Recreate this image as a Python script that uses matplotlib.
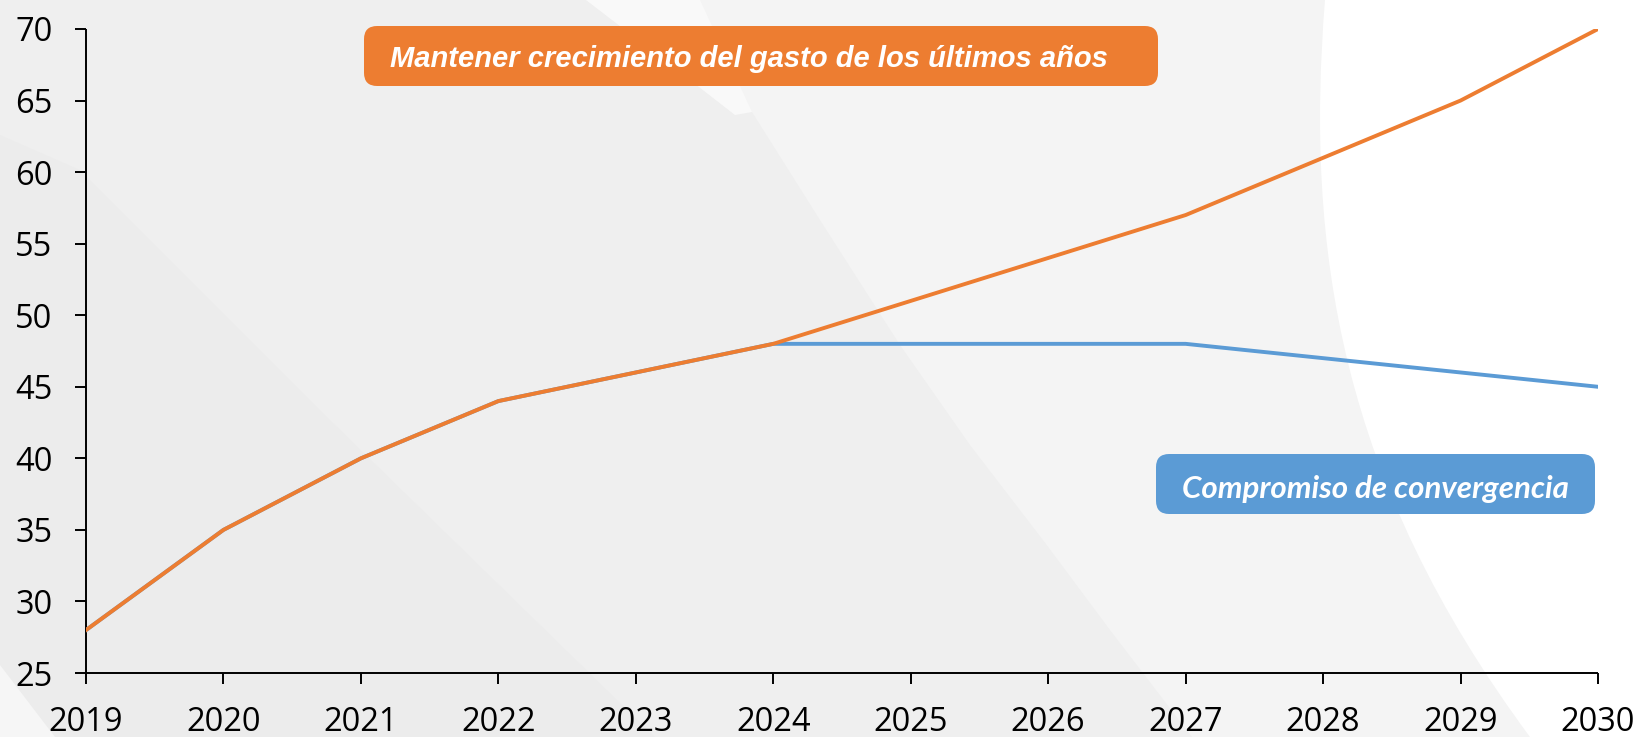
import matplotlib
matplotlib.use("Agg")
import matplotlib.pyplot as plt
from matplotlib.patches import Polygon, FancyBboxPatch, PathPatch
from matplotlib.path import Path

# Data
years = [2019, 2020, 2021, 2022, 2023, 2024, 2025, 2026, 2027, 2028, 2029, 2030]
gasto_tendencial = [28, 35, 40, 44, 46, 48, 51, 54, 57, 61, 65, 70]
compromiso = [28, 35, 40, 44, 46, 48, 48, 48, 48, 47, 46, 45]
y_ticks = [25, 30, 35, 40, 45, 50, 55, 60, 65, 70]
label_tendencial = "Mantener crecimiento del gasto de los últimos años"
label_compromiso = "Compromiso de convergencia"

ORANGE = "#ED7D31"
BLUE = "#5B9BD5"

W, H = 1640, 737
fig = plt.figure(figsize=(W / 100, H / 100), dpi=100)
fig.patch.set_facecolor("#efefef")


def px(points):
    return [(x / W, 1 - y / H) for x, y in points]


def add_band(color, pts):
    fig.patches.append(Polygon(px(pts), closed=True, transform=fig.transFigure,
                               facecolor=color, edgecolor="none", zorder=-10))


# Decorative background bands
add_band("#ececec", [(0, 135), (0, 737), (655, 737), (330, 420), (80, 170)])
add_band("#f4f4f4", [(586, 0), (1640, 0), (1640, 737), (1192, 737), (1110, 630),
                     (1046, 544), (970, 445), (900, 345), (820, 220), (752, 112)])
add_band("#f9f9f9", [(586, 0), (700, 0), (752, 112), (735, 115), (690, 80)])

# White arc on the right, drawn as a smooth cubic curve
arc = px([(1325, 0), (1305, 250), (1340, 480), (1530, 737),
          (1640, 737), (1640, 0), (1325, 0)])
arc_codes = [Path.MOVETO, Path.CURVE4, Path.CURVE4, Path.CURVE4,
             Path.LINETO, Path.LINETO, Path.CLOSEPOLY]
fig.patches.append(PathPatch(Path(arc, arc_codes), transform=fig.transFigure,
                             facecolor="#ffffff", edgecolor="none", zorder=-9))
add_band("#f6f6f6", [(0, 665), (0, 737), (55, 737)])

ax = fig.add_axes([86 / W, 1 - 673 / H, (1598 - 86) / W, (673 - 29) / H])
ax.set_zorder(1)
ax.patch.set_alpha(0)

ax.plot(years, compromiso, color=BLUE, lw=2.8, solid_joinstyle="miter", zorder=3)
ax.plot(years, gasto_tendencial, color=ORANGE, lw=2.8, solid_joinstyle="miter", zorder=4)

ax.set_xlim(years[0], years[-1])
ax.set_ylim(y_ticks[0], y_ticks[-1])
ax.set_xticks(years)
ax.set_yticks(y_ticks)
ax.set_xticklabels([str(y) for y in years])

for side in ("top", "right"):
    ax.spines[side].set_visible(False)
for side in ("left", "bottom"):
    ax.spines[side].set_linewidth(1.4)
    ax.spines[side].set_color("black")
    ax.spines[side].set_capstyle("butt")

ax.tick_params(axis="both", direction="out", length=8, width=1.4, colors="black",
               labelsize=23.5)
ax.tick_params(axis="y", pad=16)
ax.tick_params(axis="x", pad=16)
for lab in ax.get_xticklabels() + ax.get_yticklabels():
    lab.set_family(["Open Sans", "DejaVu Sans"])


def label_box(x0, y0, x1, y1, color, text, font, size, cx, cy):
    box = FancyBboxPatch((x0 / W, 1 - y1 / H), (x1 - x0) / W, (y1 - y0) / H,
                         boxstyle="round,pad=0,rounding_size=0.008",
                         transform=fig.transFigure, facecolor=color,
                         edgecolor="none", zorder=5, mutation_aspect=W / H)
    fig.patches.append(box)
    fig.text(cx / W, 1 - cy / H, text, color="white", fontsize=size,
             fontweight="bold", fontstyle="italic", family=font,
             ha="center", va="center", zorder=6)


label_box(364, 26, 1158, 86, ORANGE, label_tendencial,
          ["Liberation Sans", "DejaVu Sans"], 21, 749, 59)
label_box(1156, 454, 1595, 514, BLUE, label_compromiso,
          ["Lato", "DejaVu Sans"], 22.5, 1375, 489)

fig.savefig("out.png", dpi=100)
